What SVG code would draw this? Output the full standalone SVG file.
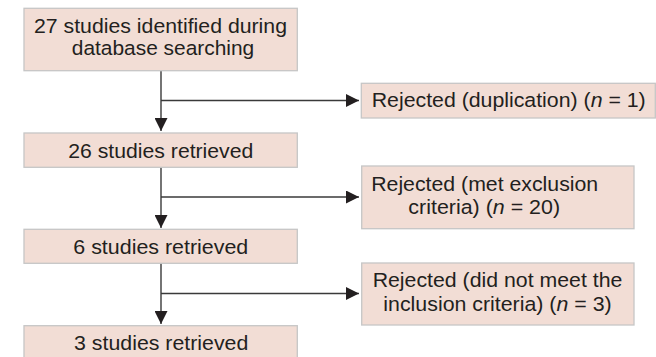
<svg xmlns="http://www.w3.org/2000/svg" width="656" height="357" viewBox="0 0 656 357">
<style>
.box{fill:#f2ddd5;stroke:#c6c6c6;stroke-width:1.3}
.t{font-family:"Liberation Sans",Arial,sans-serif;font-size:20.5px;fill:#231f20;text-anchor:middle}
.c{stroke:#3a3a3a;stroke-width:1.4;fill:none}
</style>
<defs>
<marker id="ah" viewBox="0 0 13 13" refX="13" refY="6.5" markerWidth="13" markerHeight="13" markerUnits="userSpaceOnUse" orient="auto">
<path d="M0,0 L13,6.5 L0,13 Z" fill="#231f20"/>
</marker>
</defs>
<rect width="656" height="357" fill="#ffffff"/>
<g id="connectors">
<line class="c" x1="161" y1="71" x2="161" y2="131" marker-end="url(#ah)"/>
<line class="c" x1="161" y1="100.5" x2="359" y2="100.5" marker-end="url(#ah)"/>
<line class="c" x1="161" y1="167" x2="161" y2="228" marker-end="url(#ah)"/>
<line class="c" x1="161" y1="197" x2="359" y2="197" marker-end="url(#ah)"/>
<line class="c" x1="161" y1="263" x2="161" y2="324" marker-end="url(#ah)"/>
<line class="c" x1="161" y1="293.5" x2="359" y2="293.5" marker-end="url(#ah)"/>
</g>
<g id="n1">
<rect class="box" x="24" y="8.3" width="273.3" height="62.4"/>
<text class="t" x="160.5" y="33.2" textLength="253" lengthAdjust="spacingAndGlyphs">27 studies identified during</text>
<text class="t" x="163" y="55.4" textLength="182.5" lengthAdjust="spacingAndGlyphs">database searching</text>
</g>
<g id="n2">
<rect class="box" x="24" y="133" width="273.3" height="34.3"/>
<text class="t" x="160.8" y="157.6" textLength="185" lengthAdjust="spacingAndGlyphs">26 studies retrieved</text>
</g>
<g id="n3">
<rect class="box" x="24" y="229.3" width="273.3" height="34"/>
<text class="t" x="160.8" y="253.6" textLength="175" lengthAdjust="spacingAndGlyphs">6 studies retrieved</text>
</g>
<g id="n4">
<rect class="box" x="24" y="325.7" width="273.3" height="40"/>
<text class="t" x="161.2" y="350.3" textLength="174.3" lengthAdjust="spacingAndGlyphs">3 studies retrieved</text>
</g>
<g id="r1">
<rect class="box" x="361.3" y="83.3" width="294" height="34.7"/>
<text class="t" x="508.7" y="107" textLength="274" lengthAdjust="spacingAndGlyphs">Rejected (duplication) (<tspan font-style="italic">n</tspan> = 1)</text>
</g>
<g id="r2">
<rect class="box" x="361.7" y="166" width="272.3" height="62.7"/>
<text class="t" x="484.7" y="191" textLength="227" lengthAdjust="spacingAndGlyphs">Rejected (met exclusion</text>
<text class="t" x="484.2" y="214.3" textLength="151.7" lengthAdjust="spacingAndGlyphs">criteria) (<tspan font-style="italic">n</tspan> = 20)</text>
</g>
<g id="r3">
<rect class="box" x="361.7" y="263" width="272.3" height="62"/>
<text class="t" x="497.5" y="287" textLength="249.7" lengthAdjust="spacingAndGlyphs">Rejected (did not meet the</text>
<text class="t" x="497.5" y="311" textLength="228.3" lengthAdjust="spacingAndGlyphs">inclusion criteria) (<tspan font-style="italic">n</tspan> = 3)</text>
</g>
</svg>
